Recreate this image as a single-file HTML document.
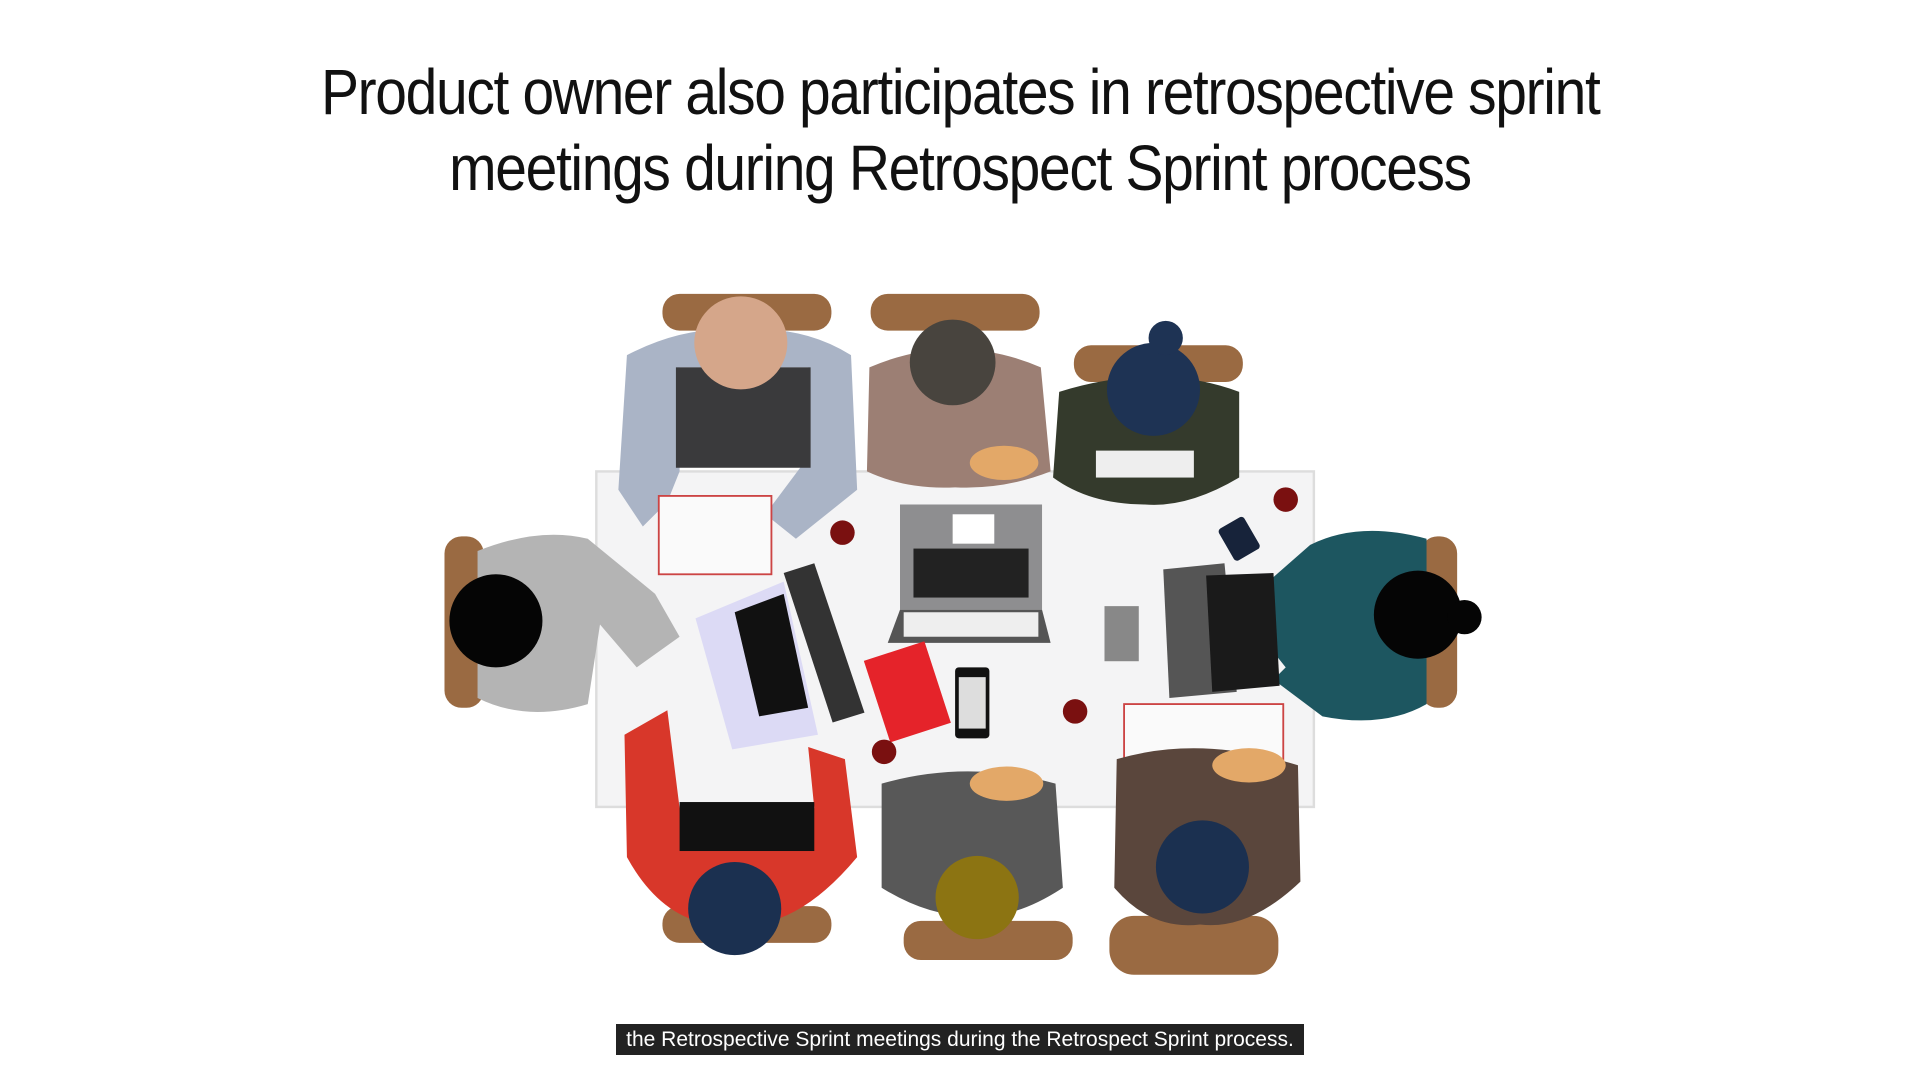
<!DOCTYPE html>
<html><head><meta charset="utf-8">
<style>
html,body{margin:0;padding:0;background:#fff;width:1920px;height:1080px;overflow:hidden}
.title{position:absolute;left:0;width:1920px;text-align:center;font-family:"Liberation Sans Narrow","Liberation Sans",sans-serif;font-size:64px;color:#111;letter-spacing:-1.5px;line-height:76px;top:54px}
.title span{display:inline-block;transform:scaleX(0.89)}
.cap{position:absolute;left:616px;top:1024px;width:688px;height:31px;background:#222;color:#fff;font-family:"Liberation Sans",sans-serif;font-size:21px;line-height:31px;text-align:center}
svg{position:absolute;left:0;top:0}
</style></head><body>
<div class="title"><span>Product owner also participates in retrospective sprint</span><br><span>meetings during Retrospect Sprint process</span></div>
<svg width="1920" height="1080" viewBox="0 0 1568 882">
 <rect x="487" y="385" width="586" height="274" fill="#f4f4f5" stroke="#ddd" stroke-width="2"/>
 <g fill="#9a6a42">
  <rect x="541" y="240" width="138" height="30" rx="14"/>
  <rect x="711" y="240" width="138" height="30" rx="14"/>
  <rect x="877" y="282" width="138" height="30" rx="14"/>
  <rect x="363" y="438" width="32" height="140" rx="14"/>
  <rect x="1160" y="438" width="30" height="140" rx="14"/>
  <rect x="541" y="740" width="138" height="30" rx="14"/>
  <rect x="738" y="752" width="138" height="32" rx="14"/>
  <rect x="906" y="748" width="138" height="48" rx="20"/>
 </g>
 <g>
  <path d="M512 290 Q560 265 605 270 Q655 265 695 290 L700 400 L650 440 L625 420 L655 380 L660 300 L555 300 L555 385 L545 410 L525 430 L505 400 Z" fill="#aab4c6"/>
  <rect x="552" y="300" width="110" height="82" fill="#3a3a3c"/>
  <circle cx="605" cy="280" r="38" fill="#d5a68a"/>
  <rect x="538" y="405" width="92" height="64" fill="#fafafa" stroke="#c44" stroke-width="1.5"/>
 </g>
 <g>
  <path d="M710 300 Q780 270 850 300 L858 385 Q820 400 780 398 Q740 400 708 385 Z" fill="#9c7f74"/>
  <circle cx="778" cy="296" r="35" fill="#48443e"/>
  <ellipse cx="820" cy="378" rx="28" ry="14" fill="#e3a868"/>
 </g>
 <g>
  <path d="M865 320 Q945 295 1012 320 L1012 390 Q970 415 935 412 Q890 412 860 390 Z" fill="#343a2c"/>
  <circle cx="942" cy="318" r="38" fill="#1e3354"/>
  <circle cx="952" cy="276" r="14" fill="#1e3354"/>
  <rect x="895" y="368" width="80" height="22" fill="#eee"/>
 </g>
 <g>
  <path d="M390 450 Q440 430 480 440 L535 485 L555 520 L520 545 L490 510 L480 575 Q430 590 390 570 Z" fill="#b4b4b4"/>
  <circle cx="405" cy="507" r="38" fill="#050505"/>
 </g>
 <g>
  <path d="M1165 440 Q1110 425 1070 445 L1030 480 L1010 500 L1030 520 L1050 545 L1040 555 L1080 585 Q1130 595 1165 575 Z" fill="#1d5660"/>
  <circle cx="1158" cy="502" r="36" fill="#050505"/>
  <circle cx="1196" cy="504" r="14" fill="#050505"/>
 </g>
 <g>
  <rect x="735" y="412" width="116" height="86" fill="#8e8e90"/>
  <rect x="746" y="448" width="94" height="40" fill="#222"/>
  <rect x="778" y="420" width="34" height="24" fill="#fff"/>
  <path d="M735 498 L851 498 L858 525 L725 525 Z" fill="#555"/>
  <rect x="738" y="500" width="110" height="20" fill="#eee"/>
  <path d="M568 505 L640 475 L668 600 L598 612 Z" fill="#dcdaf5"/>
  <path d="M600 500 L640 485 L660 578 L620 585 Z" fill="#111"/>
  <path d="M640 468 L665 460 L706 582 L680 590 Z" fill="#333"/>
  <path d="M950 465 L1000 460 L1010 565 L955 570 Z" fill="#555"/>
  <path d="M985 470 L1040 468 L1045 560 L990 565 Z" fill="#1a1a1a"/>
 </g>
 <rect x="715" y="530" width="52" height="70" fill="#e5232a" transform="rotate(-18 741 565)"/>
 <rect x="780" y="545" width="28" height="58" rx="3" fill="#111"/><rect x="783" y="553" width="22" height="42" fill="#ddd"/>
 <rect x="1000" y="425" width="24" height="30" rx="3" fill="#17233a" transform="rotate(-30 1012 440)"/>
 <rect x="902" y="495" width="28" height="45" fill="#888"/>
 <g fill="#7a1010"><circle cx="688" cy="435" r="10"/><circle cx="1050" cy="408" r="10"/><circle cx="878" cy="581" r="10"/><circle cx="722" cy="614" r="10"/></g>
 <rect x="918" y="575" width="130" height="60" fill="#fafafa" stroke="#c44" stroke-width="1.5"/>
 <g>
  <path d="M510 600 L545 580 L555 660 L665 660 L660 610 L690 620 L700 700 Q650 760 600 755 Q545 760 512 700 Z" fill="#d8372a"/>
  <rect x="555" y="655" width="110" height="40" fill="#111"/>
  <circle cx="600" cy="742" r="38" fill="#1b3050"/>
 </g>
 <g>
  <path d="M720 640 Q790 620 862 640 L868 725 Q830 750 798 748 Q760 750 720 725 Z" fill="#585858"/>
  <circle cx="798" cy="733" r="34" fill="#8c7412"/>
  <ellipse cx="822" cy="640" rx="30" ry="14" fill="#e3a868"/>
 </g>
 <g>
  <path d="M912 620 Q980 600 1060 625 L1062 720 Q1020 760 980 755 Q940 760 910 725 Z" fill="#5a463c"/>
  <circle cx="982" cy="708" r="38" fill="#1b3050"/>
  <ellipse cx="1020" cy="625" rx="30" ry="14" fill="#e3a868"/>
 </g>
</svg>
<div class="cap">the Retrospective Sprint meetings during the Retrospect Sprint process.</div>
</body></html>
